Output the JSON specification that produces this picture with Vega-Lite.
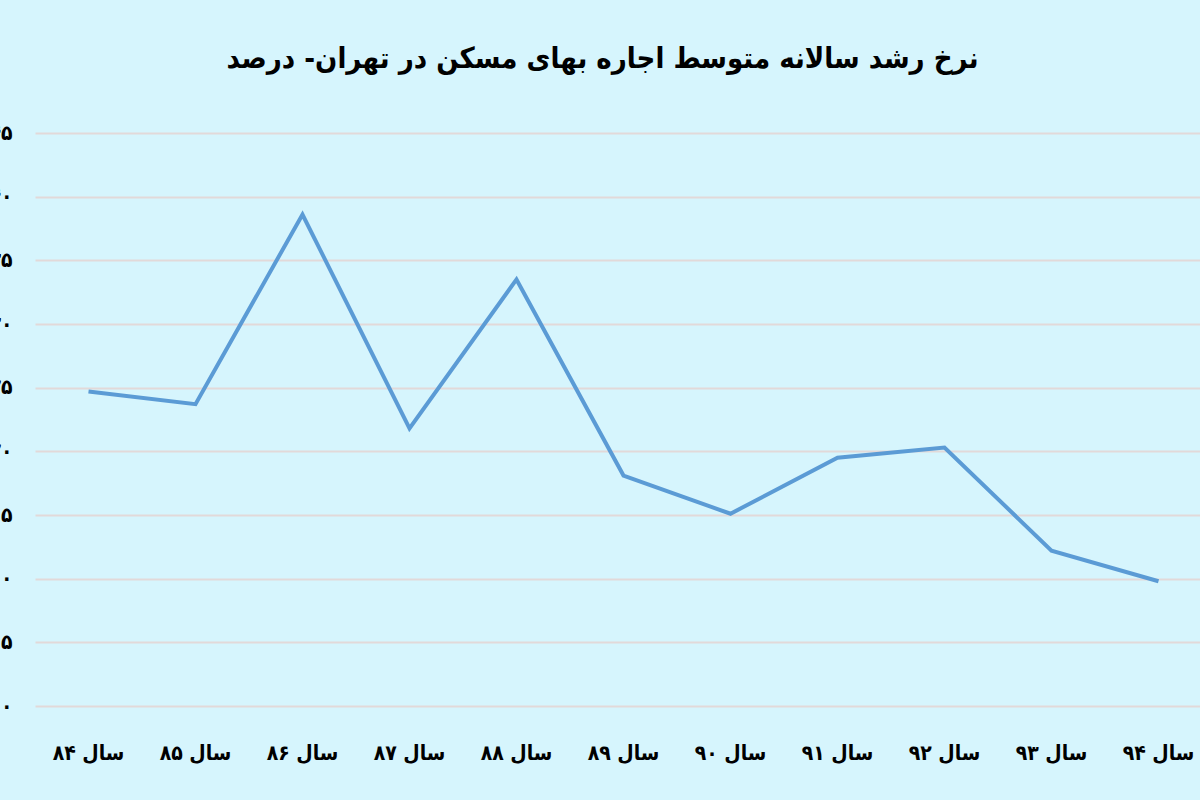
{
  "$schema": "https://vega.github.io/schema/vega-lite/v6.json",
  "autosize": {"type": "none"},
  "padding": {"left": 35, "top": 133, "right": 0, "bottom": 94},
  "width": 1177,
  "height": 573,
  "background": "#d6f5fd",
  "title": {
    "text": "نرخ رشد سالانه متوسط اجاره بهای مسکن در تهران- درصد",
    "font": "DejaVu Sans Condensed",
    "fontSize": 29,
    "fontWeight": "bold",
    "color": "#000000",
    "anchor": "middle",
    "dx": -21,
    "offset": 48
  },
  "config": {
    "view": {"stroke": null},
    "axis": {"labelFont": "DejaVu Sans Condensed", "labelColor": "#000000"}
  },
  "data": {
    "values": [
      {"year": "سال ۸۴", "rate": 24.7},
      {"year": "سال ۸۵", "rate": 23.7},
      {"year": "سال ۸۶", "rate": 38.6},
      {"year": "سال ۸۷", "rate": 21.8},
      {"year": "سال ۸۸", "rate": 33.5},
      {"year": "سال ۸۹", "rate": 18.1},
      {"year": "سال ۹۰", "rate": 15.1},
      {"year": "سال ۹۱", "rate": 19.5},
      {"year": "سال ۹۲", "rate": 20.3},
      {"year": "سال ۹۳", "rate": 12.2},
      {"year": "سال ۹۴", "rate": 9.8}
    ]
  },
  "mark": {"type": "line", "color": "#5b9bd5", "strokeWidth": 4, "strokeJoin": "miter"},
  "encoding": {
    "x": {
      "field": "year",
      "type": "ordinal",
      "sort": null,
      "scale": {"type": "band", "paddingInner": 0, "paddingOuter": 0},
      "axis": {
        "title": null,
        "labelAngle": 0,
        "domain": false,
        "ticks": false,
        "grid": false,
        "labelFontSize": 21,
        "labelFontWeight": "bold",
        "labelPadding": 36
      }
    },
    "y": {
      "field": "rate",
      "type": "quantitative",
      "scale": {"domain": [0, 45], "nice": false},
      "axis": {
        "title": null,
        "values": [0, 5, 10, 15, 20, 25, 30, 35, 40, 45],
        "labelExpr": "['۰','۵','۱۰','۱۵','۲۰','۲۵','۳۰','۳۵','۴۰','۴۵'][round(datum.value/5)]",
        "domain": false,
        "ticks": false,
        "labelFontSize": 21,
        "labelFontWeight": "bold",
        "labelPadding": 23,
        "gridColor": "#e2d9d9",
        "gridWidth": 2
      }
    }
  }
}
